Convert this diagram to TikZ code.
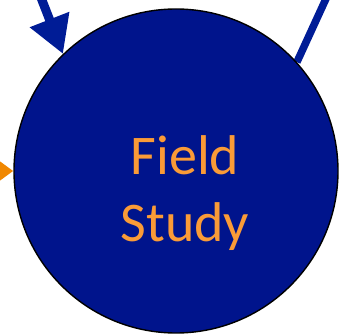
\documentclass[tikz,border=0pt]{standalone}
\usepackage{fontspec}
\setmainfont{Carlito}
\usetikzlibrary{arrows.meta,backgrounds}
\definecolor{fsblue}{RGB}{0,20,140}
\definecolor{arrblue}{RGB}{0,28,150}
\definecolor{txtorange}{RGB}{250,155,55}
\definecolor{arrorange}{RGB}{240,135,0}
\tikzset{
  bubble/.style={circle, draw=black, line width=1.4pt, fill=fsblue, minimum size=324pt, inner sep=0pt},
  bubbletext/.style={text=txtorange, font=\fontsize{56}{67}\selectfont, anchor=base, inner sep=0pt},
  bluearrow/.style={draw=arrblue, line width=9pt, -{Triangle[length=37pt, width=40pt]}},
  blueline/.style={draw=arrblue, line width=7.5pt},
  orangearrow/.style={draw=arrorange, line width=9pt, -{Triangle[length=26pt, width=36pt]}}
}
\begin{document}
\begin{tikzpicture}[x=1pt, y=-1pt]
\useasboundingbox (0,0) rectangle (341,334);
\clip (0,0) rectangle (341,334);
\node[bubble] (fs) at (176,171) {};
\node[bubbletext] (t1) at (185,175) {Field};
\node[bubbletext] (t2) at (185,242) {Study};
\coordinate (a1) at (38,-10);
\coordinate (a2) at (330,-10);
\coordinate (a3) at (-40,171);
\begin{pgfonlayer}{background}
\fill[white] (0,0) rectangle (341,334);
\draw[bluearrow] (a1) -- (fs.134);
\draw[blueline] (a2) -- (fs.42);
\draw[orangearrow] (a3) -- (fs.west);
\end{pgfonlayer}
\end{tikzpicture}
\end{document}
